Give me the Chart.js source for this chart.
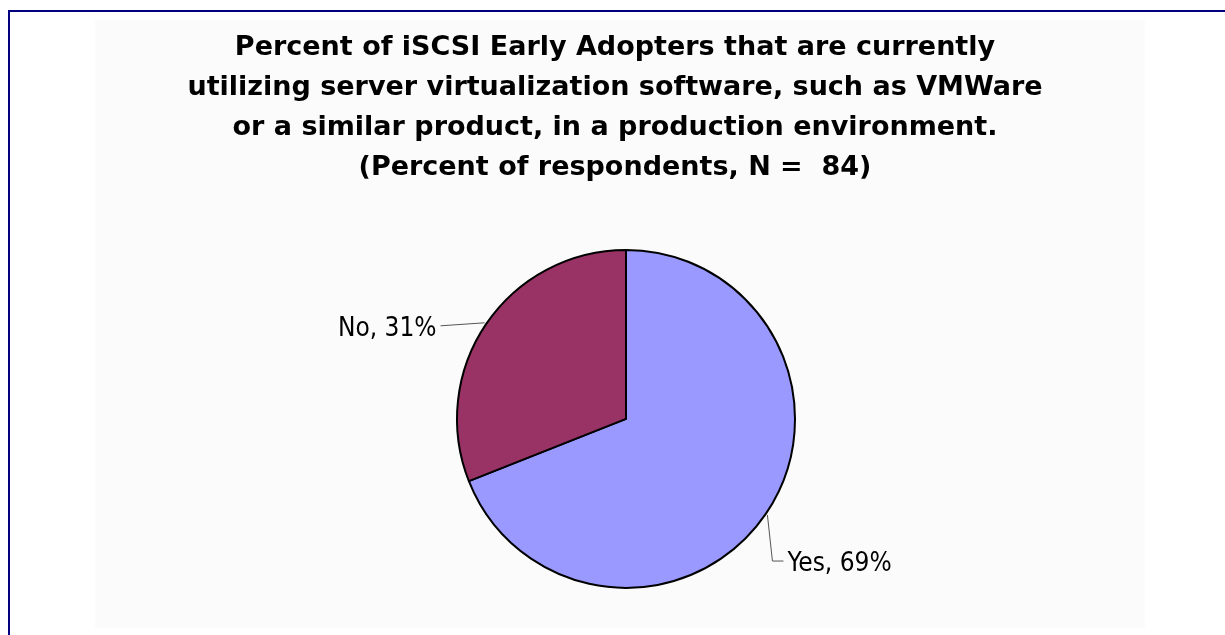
<!DOCTYPE html>
<html>
<head>
<meta charset="utf-8">
<title>iSCSI Early Adopters - server virtualization</title>
<script src="https://cdn.jsdelivr.net/npm/chart.js@4/dist/chart.umd.min.js"></script>
<style>
	html, body { margin: 0; padding: 0; background: #ffffff; overflow: hidden; }
	#frame {
		position: absolute; left: 8px; top: 10px; width: 1400px; height: 800px;
		border-top: 2px solid #000080; border-left: 2px solid #000080;
	}
	#plotBg {
		position: absolute; left: 95px; top: 20px; width: 1050px; height: 608px;
		background: #fbfbfb;
	}
	#wrap { position: absolute; left: 0; top: 0; width: 1225px; height: 635px; }
</style>
</head>
<body>
<div id="frame"></div>
<div id="plotBg"></div>
<div id="wrap"><canvas id="pieChart" width="1225" height="635"></canvas></div>
<script>
const categories = ['Yes', 'No'];
const percentValues = [69, 31];
const sliceColors = ['#9999ff', '#993366'];
const titleLines = [
	'Percent of iSCSI Early Adopters that are currently',
	'utilizing server virtualization software, such as VMWare',
	'or a similar product, in a production environment.',
	'(Percent of respondents, N =  84)'
];

const labelFont = '26px "DejaVu Sans Condensed", "DejaVu Sans", sans-serif';

// nudge the title a bit left of the pie centre, like the original
const titleShift = {
	id: 'titleShift',
	afterLayout(chart) {
		chart.titleBlock.left -= 22;
	}
};

// "Category, NN%" labels with leader lines
const sliceLabels = {
	id: 'sliceLabels',
	afterDatasetsDraw(chart) {
		const ctx = chart.ctx;
		const arcs = chart.getDatasetMeta(0).data;
		ctx.save();
		ctx.font = labelFont;
		ctx.fillStyle = '#000000';
		ctx.strokeStyle = '#555555';
		ctx.lineWidth = 1;
		ctx.textBaseline = 'middle';
		arcs.forEach((arc, i) => {
			const p = arc.getProps(['x', 'y', 'startAngle', 'endAngle', 'outerRadius'], true);
			const mid = (p.startAngle + p.endAngle) / 2;
			const ax = p.x + Math.cos(mid) * (p.outerRadius + 2);
			const ay = p.y + Math.sin(mid) * (p.outerRadius + 2);
			const text = categories[i] + ', ' + percentValues[i] + '%';
			ctx.beginPath();
			if (Math.cos(mid) >= 0) {
				// elbow going down then right
				const ex = ax + 5, ey = ay + 46;
				ctx.moveTo(ax, ay);
				ctx.lineTo(ex, ey);
				ctx.lineTo(ex + 11, ey);
				ctx.stroke();
				ctx.textAlign = 'left';
				ctx.fillText(text, ex + 15, ey + 3);
			} else {
				const ex = ax - 44, ey = ay + 3;
				ctx.moveTo(ax, ay);
				ctx.lineTo(ex, ey);
				ctx.stroke();
				ctx.textAlign = 'right';
				ctx.fillText(text, ex - 4, ey + 3);
			}
		});
		ctx.restore();
	}
};

const data = {
	labels: categories,
	datasets: [{
		data: percentValues,
		backgroundColor: sliceColors,
		borderColor: '#000000',
		borderWidth: 2,
		borderAlign: 'center'
	}]
};

const config = {
	type: 'pie',
	data: data,
	options: {
		responsive: false,
		animation: false,
		radius: 169,
		layout: { padding: { top: 0, bottom: 47, left: 27, right: 0 } },
		plugins: {
			legend: { display: false },
			tooltip: { enabled: false },
			title: {
				display: true,
				text: titleLines,
				color: '#000000',
				font: { family: '"DejaVu Sans", sans-serif', size: 27, weight: 'bold', lineHeight: 1.48 },
				padding: { top: 28, bottom: 62 }
			}
		}
	},
	plugins: [titleShift, sliceLabels]
};

new Chart(document.getElementById('pieChart'), config);
</script>
</body>
</html>
